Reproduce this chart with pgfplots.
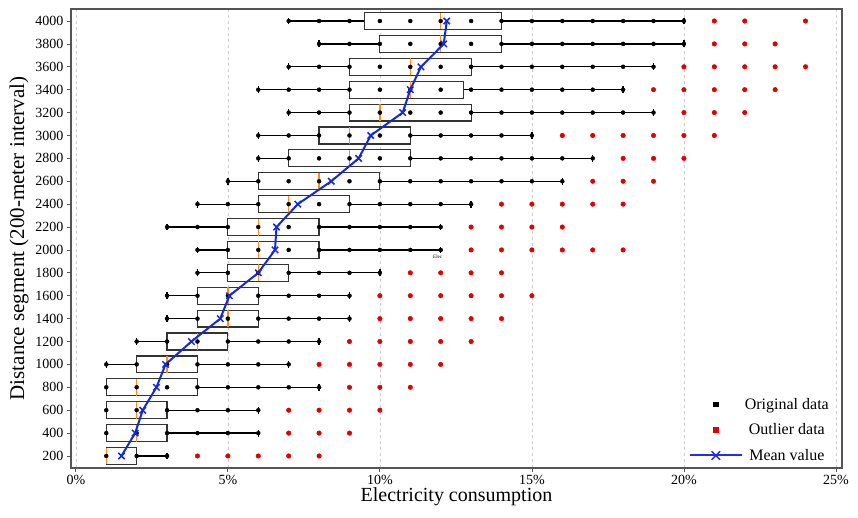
\documentclass[border=0pt]{standalone}
\usepackage{fontspec}
\setmainfont{Liberation Serif}
\usepackage{pgfplots}
\pgfplotsset{compat=1.18}
\usepgfplotslibrary{statistics}

\definecolor{medorange}{RGB}{255,140,20}
\definecolor{outred}{RGB}{225,0,0}
\definecolor{meanblue}{RGB}{20,40,220}
\definecolor{framegray}{RGB}{85,85,85}

% one box per distance segment: position, lower whisker, Q1, median, Q3, upper whisker
\newcommand{\seg}[6]{\addplot[black, forget plot, boxplot prepared={draw position=#1,
  lower whisker=#2, lower quartile=#3, median=#4, upper quartile=#5, upper whisker=#6}]
  coordinates {};}

\begin{document}
\begin{tikzpicture}
\useasboundingbox (0,0) rectangle (858pt,518pt);
\begin{axis}[
    at={(71pt,50pt)}, anchor=south west,
    scale only axis,
    width=771pt, height=459pt,
    xmin=-0.16, xmax=25.2,
    ymin=95, ymax=4105,
    xtick={0,5,10,15,20,25},
    xticklabel={\pgfmathprintnumber{\tick}\%},
    ytick={200,400,...,4000},
    /pgf/number format/1000 sep={},
    /pgf/number format/assume math mode=true,
    tick label style={font=\fontsize{14}{14}\selectfont},
    label style={font=\fontsize{20}{20}\selectfont},
    ylabel style={font=\fontsize{21}{21}\selectfont},
    xlabel={Electricity consumption},
    ylabel={Distance segment (200-meter interval)},
    xlabel style={yshift=4pt},
    tick pos=left,
    tick align=outside,
    major tick length=4pt,
    tick style={framegray, line width=0.8pt},
    axis line style={framegray, line width=1.2pt},
    xmajorgrids,
    grid style={gray!40, dashed, line width=0.6pt},
    boxplot/draw direction=x,
    boxplot/box extend=148,
    boxplot/whisker extend=60,
    boxplot/every box/.style={draw=black!80, line width=1.2pt, fill=white},
    boxplot/every whisker/.style={black, line width=1.3pt},
    boxplot/every median/.style={medorange, line width=1.5pt},
    legend image code/.code={\draw[mark repeat=2,mark phase=2,#1]
        plot coordinates {(0pt,0pt) (26pt,0pt) (52pt,0pt)};},
    legend style={at={(rel axis cs:1,0)}, anchor=south east,
        xshift=-8pt, yshift=2pt, draw=none, fill=none,
        row sep=9pt, font=\fontsize{16}{16}\selectfont},
    legend cell align=center,
]
\seg{200}{1}{1}{1}{2}{3}
\seg{400}{1}{1}{2}{3}{6}
\seg{600}{1}{1}{2}{3}{6}
\seg{800}{1}{1}{2}{4}{8}
\seg{1000}{1}{2}{3}{4}{7}
\seg{1200}{2}{3}{4}{5}{8}
\seg{1400}{3}{4}{5}{6}{9}
\seg{1600}{3}{4}{5}{6}{9}
\seg{1800}{4}{5}{6}{7}{10}
\seg{2000}{4}{5}{6}{8}{12}
\seg{2200}{3}{5}{6}{8}{12}
\seg{2400}{4}{6}{7}{9}{13}
\seg{2600}{5}{6}{8}{10}{16}
\seg{2800}{6}{7}{9}{11}{17}
\seg{3000}{6}{8}{9}{11}{15}
\seg{3200}{7}{9}{10}{13}{19}
\seg{3400}{6}{9}{11}{12.75}{18}
\seg{3600}{7}{9}{11}{13}{19}
\seg{3800}{8}{10}{12}{14}{20}
\seg{4000}{7}{9.5}{12}{14}{20}

% original data
\addplot[only marks, mark=*, mark size=2pt, black, forget plot] coordinates {
 (1,200) (2,200) (3,200)
 (1,400) (2,400) (3,400) (4,400) (5,400) (6,400)
 (1,600) (2,600) (3,600) (4,600) (5,600) (6,600)
 (1,800) (2,800) (3,800) (4,800) (5,800) (6,800) (7,800) (8,800)
 (1,1000) (2,1000) (3,1000) (4,1000) (5,1000) (6,1000) (7,1000)
 (2,1200) (3,1200) (4,1200) (5,1200) (6,1200) (7,1200) (8,1200)
 (3,1400) (4,1400) (5,1400) (6,1400) (7,1400) (8,1400) (9,1400)
 (3,1600) (4,1600) (5,1600) (6,1600) (7,1600) (8,1600) (9,1600)
 (4,1800) (5,1800) (6,1800) (7,1800) (8,1800) (9,1800) (10,1800)
 (4,2000) (5,2000) (6,2000) (7,2000) (8,2000) (9,2000) (10,2000) (11,2000) (12,2000)
 (3,2200) (4,2200) (5,2200) (6,2200) (7,2200) (8,2200) (9,2200) (10,2200) (11,2200) (12,2200)
 (4,2400) (5,2400) (6,2400) (7,2400) (8,2400) (9,2400) (10,2400) (11,2400) (12,2400) (13,2400)
 (5,2600) (6,2600) (7,2600) (8,2600) (9,2600) (10,2600) (11,2600) (12,2600) (13,2600) (14,2600) (15,2600) (16,2600)
 (6,2800) (7,2800) (8,2800) (9,2800) (10,2800) (11,2800) (12,2800) (13,2800) (14,2800) (15,2800) (16,2800) (17,2800)
 (6,3000) (7,3000) (8,3000) (9,3000) (10,3000) (11,3000) (12,3000) (13,3000) (14,3000) (15,3000)
 (7,3200) (8,3200) (9,3200) (10,3200) (11,3200) (12,3200) (13,3200) (14,3200) (15,3200) (16,3200) (17,3200) (18,3200) (19,3200)
 (6,3400) (7,3400) (8,3400) (9,3400) (10,3400) (11,3400) (12,3400) (13,3400) (14,3400) (15,3400) (16,3400) (17,3400) (18,3400)
 (7,3600) (8,3600) (9,3600) (10,3600) (11,3600) (12,3600) (13,3600) (14,3600) (15,3600) (16,3600) (17,3600) (18,3600) (19,3600)
 (8,3800) (9,3800) (10,3800) (11,3800) (12,3800) (13,3800) (14,3800) (15,3800) (16,3800) (17,3800) (18,3800) (19,3800) (20,3800)
 (7,4000) (8,4000) (9,4000) (10,4000) (11,4000) (12,4000) (13,4000) (14,4000) (15,4000) (16,4000) (17,4000) (18,4000) (19,4000) (20,4000)
};

% outlier data
\addplot[only marks, mark=*, mark size=2.3pt, outred, forget plot] coordinates {
 (4,200) (5,200) (6,200) (7,200) (8,200)
 (7,400) (8,400) (9,400)
 (7,600) (8,600) (9,600) (10,600)
 (9,800) (10,800) (11,800)
 (8,1000) (9,1000) (10,1000) (11,1000) (12,1000)
 (9,1200) (10,1200) (11,1200) (12,1200) (13,1200)
 (10,1400) (11,1400) (12,1400) (13,1400) (14,1400)
 (10,1600) (11,1600) (12,1600) (13,1600) (14,1600) (15,1600)
 (11,1800) (12,1800) (13,1800) (14,1800)
 (13,2000) (14,2000) (15,2000) (16,2000) (17,2000) (18,2000)
 (13,2200) (14,2200) (15,2200) (16,2200)
 (14,2400) (15,2400) (16,2400) (17,2400) (18,2400)
 (17,2600) (18,2600) (19,2600)
 (18,2800) (19,2800) (20,2800)
 (16,3000) (17,3000) (18,3000) (19,3000) (20,3000) (21,3000)
 (20,3200) (21,3200) (22,3200)
 (19,3400) (20,3400) (21,3400) (22,3400) (23,3400)
 (20,3600) (21,3600) (22,3600) (23,3600) (24,3600)
 (21,3800) (22,3800) (23,3800)
 (21,4000) (22,4000) (24,4000)
};

% mean value
\addplot[meanblue, line width=2pt, mark=x, mark size=4.5pt,
    mark options={line width=1.5pt}, forget plot] coordinates {
 (1.5,200) (1.95,400) (2.2,600) (2.65,800) (2.95,1000) (3.8,1200)
 (4.75,1400) (5.05,1600) (6.0,1800) (6.55,2000) (6.6,2200) (7.3,2400)
 (8.4,2600) (9.3,2800) (9.7,3000) (10.75,3200) (11.0,3400) (11.35,3600)
 (12.1,3800) (12.2,4000)
};

\node[font=\fontsize{5}{5}\selectfont, inner sep=0pt] at (axis cs:11.9,1940) {Elec};

\addlegendimage{only marks, mark=square*, mark size=2.2pt, black}
\addlegendentry{Original data}
\addlegendimage{only marks, mark=square*, mark size=2.2pt, outred}
\addlegendentry{Outlier data}
\addlegendimage{blue!85, line width=2pt, mark=x, mark size=6pt, mark options={line width=1.3pt}}
\addlegendentry{Mean value}
\end{axis}
\end{tikzpicture}
\end{document}
